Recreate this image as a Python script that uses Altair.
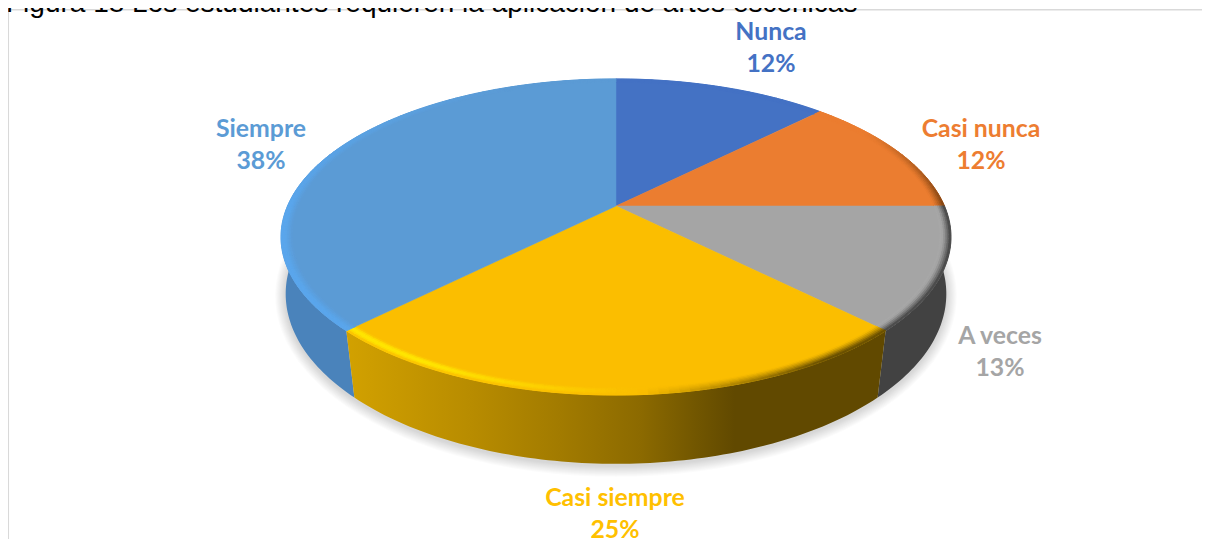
import math
import altair as alt

categories = ["Nunca", "Casi nunca", "A veces", "Casi siempre", "Siempre"]
shares = [12.5, 12.5, 12.5, 25.0, 37.5]
pct_labels = ["12%", "12%", "13%", "25%", "38%"]
colors = ["#4472C4", "#ED7D31", "#A5A5A5", "#FFC000", "#5B9BD5"]
face_colors = ["#4472C4", "#EB7D30", "#A5A5A5", "#FBBE00", "#5B9BD5"]
wall_colors = ["#22395F", "#77401A", "#424242", "#8C6A00", "#4A83BB"]
label_x = [771, 981, 1000, 615, 261]
label_y = [32.5, 129.5, 336.5, 498.5, 129.5]
title_text = "Figura 18 Los estudiantes requieren la aplicación de artes escénicas"
yellow_wall_stops = [(346, "#D2A100"), (470, "#B88C00"), (560, "#A27B00"),
                     (640, "#8C6A00"), (700, "#705500"), (735, "#614900"), (886, "#614900")]

OFF = 8  # page margin


def hex2rgb(h):
    return tuple(int(h[i:i + 2], 16) for i in (1, 3, 5))


def mix(a, b, t):
    t = max(0.0, min(1.0, t))
    ra, rb = hex2rgb(a), hex2rgb(b)
    return "#%02x%02x%02x" % tuple(round(x + (y - x) * t) for x, y in zip(ra, rb))


def top(theta, r=1.0):
    u, v = r * math.sin(theta), -r * math.cos(theta)
    w = 1 - 0.196 * v
    return (616 + 328.5 * u / w - OFF, 206 + 152 * v / w - OFF)


def bottom(theta, r=1.0):
    u, v = r * math.sin(theta), -r * math.cos(theta)
    w = 1 - 0.17 * v
    return (616 + 325.5 * u / w - OFF, 265 + 165 * v / w - OFF)


def feat(ring, fill):
    ring = [list(p) for p in ring]
    ring.append(ring[0])
    return {"type": "Feature",
            "geometry": {"type": "Polygon", "coordinates": [ring]},
            "properties": {"fill": fill}}


def angles(a0, a1, step):
    n = max(1, int(round((a1 - a0) / step)))
    return [a0 + (a1 - a0) * i / n for i in range(n + 1)]


# slice boundaries derived from the shares
bounds = [0.0]
for s in shares:
    bounds.append(bounds[-1] + s / 100 * 2 * math.pi)


def wall_ring(i):
    ts = angles(bounds[i], bounds[i + 1], math.radians(1.0))
    return [top(t) for t in ts] + [bottom(t) for t in reversed(ts)]


plain_walls = [feat(wall_ring(i), wall_colors[i]) for i in (1, 2, 4)]
yellow_wall = [feat(wall_ring(3), wall_colors[3])]

# flat faces
faces = []
for i in range(5):
    ts = angles(bounds[i], bounds[i + 1], math.radians(1.0))
    faces.append(feat([top(0, 0)] + [top(t) for t in ts], face_colors[i]))

# bevelled rim
rim = []
BANDS = 6
R0 = 0.968
for i in range(5):
    ts = angles(bounds[i], bounds[i + 1], math.radians(1.5))
    for a, b in zip(ts, ts[1:]):
        m = (a + b) / 2
        px = top(m)[0] + OFF
        left = max(0.0, min(1.0, (640 - px) / 230))
        right = max(0.0, min(1.0, (px - 640) / 200))
        for k in range(BANDS):
            t = (k + 0.5) / BANDS
            r0 = R0 + (1 - R0) * k / BANDS
            r1 = R0 + (1 - R0) * (k + 1) / BANDS
            hi = math.sin(math.pi * t) ** 1.2
            lo = t ** 1.3
            c = face_colors[i]
            if i == 4:
                fade = max(0.0, min(1.0, (5.9 - m) / 1.2))
                c = mix(c, "#5AA6EC", min(1.0, t * 1.5) * fade)
            elif i == 3:
                c = mix(c, "#FFE500", hi * left * 1.1)
                c = mix(c, "#6A5000", lo * right * 1.2)
            elif i == 2:
                c = mix(c, "#BDBDBD", hi * (1 - t) * 0.9)
                c = mix(c, "#444444", t ** 1.6 * 1.05)
            elif i == 1:
                fade = max(0.0, (m - 1.0) / 0.57)
                c = mix(c, "#7A4010", lo * fade)
            rim.append(feat([top(a, r0), top(b, r0), top(b, r1), top(a, r1)], c))

# soft shadow rings under the wall
shadow = []
for g in range(10, 0, -1):
    ring = []
    for t in angles(0, 2 * math.pi, math.radians(3)):
        x, y = bottom(t)
        cx, cy = 616 - OFF, 294 - OFF
        ring.append((cx + (x - cx) * (1 + g * 0.0032), cy + 2 + (y - cy) * (1 + g * 0.0065)))
    shadow.append(feat(ring, "#000000"))

PROJ = dict(type="identity", scale=1, translate=[0, 0])


def geo(feats):
    return alt.InlineData(values={"type": "FeatureCollection", "features": feats},
                          format=alt.DataFormat(type="json", property="features"))


def filled(feats, sw):
    return alt.Chart(geo(feats)).mark_geoshape(strokeWidth=sw).encode(
        color=alt.Color("properties.fill:N", scale=None, legend=None),
        stroke=alt.Stroke("properties.fill:N", scale=None, legend=None),
    ).project(**PROJ)


shadow_layer = alt.Chart(geo(shadow)).mark_geoshape(
    fill="#000000", strokeWidth=0, opacity=0.014).project(**PROJ)

x0, x1 = yellow_wall_stops[0][0], yellow_wall_stops[-1][0]
grad = alt.Gradient(
    gradient="linear", x1=0, x2=1, y1=0, y2=0,
    stops=[alt.GradientStop(offset=(x - x0) / (x1 - x0), color=c) for x, c in yellow_wall_stops],
)
yellow_layer = alt.Chart(geo(yellow_wall)).mark_geoshape(fill=grad, strokeWidth=0).project(**PROJ)

rows = []
for c, p, col, x, y in zip(categories, pct_labels, colors, label_x, label_y):
    rows.append({"t": c, "x": x - OFF, "y": y - OFF, "c": col})
    rows.append({"t": p, "x": x - OFF, "y": y + 32 - OFF, "c": col})

labels = alt.Chart(alt.Data(values=rows)).mark_text(
    font="Lato", fontWeight="bold", fontSize=24.8, align="center", baseline="middle"
).encode(
    x=alt.X("x:Q", scale=None, axis=None),
    y=alt.Y("y:Q", scale=None, axis=None),
    text="t:N",
    color=alt.Color("c:N", scale=None, legend=None),
)

# the reference shows this line cropped by the top edge; the page margin sits above y=8
title = alt.Chart(alt.Data(values=[{"t": title_text, "x": 6 - OFF, "y": 12 - OFF}])).mark_text(
    font="Liberation Sans", fontSize=28, align="left", baseline="alphabetic", color="#000000"
).encode(x=alt.X("x:Q", scale=None, axis=None), y=alt.Y("y:Q", scale=None, axis=None), text="t:N")

frame_top = alt.Chart(alt.Data(values=[{"a": 1}])).mark_rule(color="#D9D9D9", strokeWidth=1.5).encode(
    x=alt.value(0), x2=alt.value(1194), y=alt.value(1.7))
frame_left = alt.Chart(alt.Data(values=[{"a": 1}])).mark_rule(color="#D9D9D9", strokeWidth=1.5).encode(
    x=alt.value(0.3), y=alt.value(1), y2=alt.value(531))

chart = alt.layer(
    frame_top, frame_left, shadow_layer,
    filled(plain_walls, 0), yellow_layer,
    filled(faces, 0.5), filled(rim, 0.9),
    labels, title,
).properties(
    width=1194, height=531, padding=0, autosize=alt.AutoSizeParams(type="none"),
    background="#FFFFFF",
).configure_view(stroke=None)

chart.save("out.html", embed_options={"renderer": "svg", "actions": False})
